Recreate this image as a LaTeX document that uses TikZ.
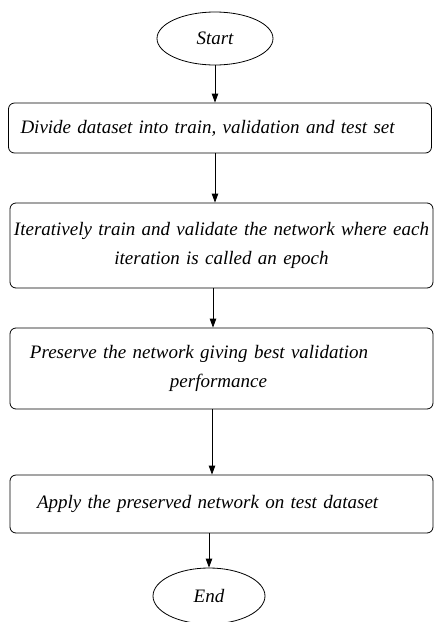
\documentclass[tikz,border=0pt]{standalone}
\usepackage{fontspec}
\setmainfont{Liberation Serif}
\usetikzlibrary{shapes.geometric,arrows.meta}
\begin{document}
\begin{tikzpicture}[x=1pt,y=-1pt,
  txt/.style={font=\fontsize{19}{29}\selectfont\itshape},
  term/.style={draw, line width=0.8pt, ellipse, inner sep=0pt, txt},
  box/.style={draw, line width=0.8pt, rounded corners=6pt, minimum width=423pt, inner xsep=2pt, inner ysep=0pt, text width=419pt, txt},
  arr/.style={line width=0.8pt, -{Triangle[length=9pt,width=6.5pt]}}]
\useasboundingbox (0,0) rectangle (434,622);
\node[term, minimum width=116pt, minimum height=53pt] (s) at (215,38.5) {Start};
\node[box, minimum height=50pt, align=left] (b1) at (220,128) {\hspace*{10pt}Divide dataset into train, validation and test set};
\node[box, minimum height=85pt, align=center] (b2) at (221.5,245.5) {\mbox{Iteratively train and validate the network where each}\\ iteration is called an epoch};
\node[box, minimum height=81pt, align=left] (b3) at (221.5,368.5) {\hspace*{18pt}Preserve the network giving best validation\\\hspace*{158pt}performance};
\node[box, minimum height=58pt, align=left] (b4) at (221.5,504) {\hspace*{25pt}Apply the preserved network on test dataset};
\node[term, minimum width=112pt, minimum height=56pt] (e) at (209,596) {End};
\draw[arr] (s.south) -- (s.south |- b1.north);
\draw[arr] (b1.south -| s.south) -- (b2.north -| s.south);
\draw[arr] ([xshift=-8.5pt]b2.south) -- ([xshift=-8.5pt]b3.north);
\draw[arr] ([xshift=-9.5pt]b3.south) -- ([xshift=-9.5pt]b4.north);
\draw[arr] (b4.south -| e.north) -- (e.north);
\end{tikzpicture}
\end{document}
